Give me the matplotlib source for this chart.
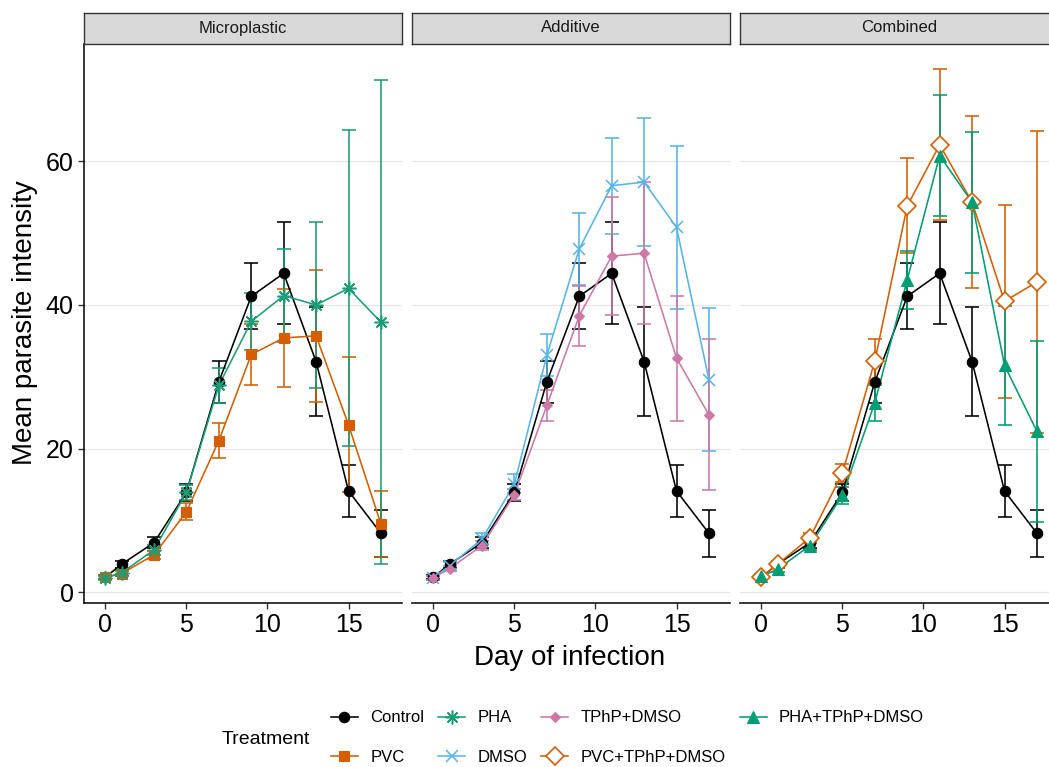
import matplotlib
matplotlib.use('Agg')
import matplotlib.pyplot as plt
from matplotlib.lines import Line2D

plt.rcParams['font.family'] = ['Liberation Sans', 'DejaVu Sans']

# Data (mean +/- se)
days = [0, 1, 3, 5, 7, 9, 11, 13, 15, 17]

control_mean = [2.1, 3.9, 6.9, 13.9, 29.3, 41.2, 44.4, 32.1, 14.1, 8.2]
control_se = [0.3, 0.5, 0.8, 1.2, 2.9, 4.6, 7.1, 7.6, 3.6, 3.3]

pvc_mean = [2.1, 2.6, 5.2, 11.2, 21.1, 33.1, 35.4, 35.7, 23.3, 9.5]
pvc_se = [0.3, 0.4, 0.6, 1.2, 2.45, 4.3, 6.8, 9.2, 9.4, 4.6]

pha_mean = [2.0, 2.7, 5.9, 13.9, 28.8, 37.7, 41.3, 40.0, 42.3, 37.6]
pha_se = [0.3, 0.4, 0.7, 1.0, 2.4, 4.0, 6.5, 11.6, 22.0, 33.7]

dmso_mean = [2.0, 3.7, 7.4, 15.1, 33.0, 47.8, 56.6, 57.1, 50.8, 29.6]
dmso_se = [0.3, 0.5, 0.8, 1.3, 2.9, 5.0, 6.7, 8.9, 11.3, 10.0]

tphp_mean = [2.0, 3.3, 6.5, 13.6, 26.0, 38.5, 46.8, 47.2, 32.6, 24.7]
tphp_se = [0.3, 0.4, 0.6, 0.8, 2.1, 4.2, 8.2, 9.9, 8.7, 10.5]

pvc_tphp_mean = [2.1, 3.9, 7.6, 16.6, 32.2, 53.8, 62.3, 54.3, 40.5, 43.2]
pvc_tphp_se = [0.3, 0.5, 0.7, 1.3, 3.1, 6.6, 10.5, 12.0, 13.4, 21.0]

pha_tphp_mean = [2.2, 3.2, 6.5, 13.5, 26.4, 43.5, 60.8, 54.3, 31.6, 22.4]
pha_tphp_se = [0.3, 0.4, 0.6, 1.2, 2.5, 4.0, 8.4, 9.8, 8.3, 12.6]

panels = ['Microplastic', 'Additive', 'Combined']
x_ticks = [0, 5, 10, 15]
y_ticks = [0, 20, 40, 60]

# name: (mean, se, colour, marker, size, filled)
styles = {
    'Control': (control_mean, control_se, 'black', 'o', 7.5, True),
    'PVC': (pvc_mean, pvc_se, '#D55E00', 's', 7, True),
    'PHA': (pha_mean, pha_se, '#1B9E77', (8, 2, 0), 10, True),
    'DMSO': (dmso_mean, dmso_se, '#56B4E9', 'x', 8, True),
    'TPhP+DMSO': (tphp_mean, tphp_se, '#CC79A7', 'D', 5.5, True),
    'PVC+TPhP+DMSO': (pvc_tphp_mean, pvc_tphp_se, '#D55E00', 'D', 9.5, False),
    'PHA+TPhP+DMSO': (pha_tphp_mean, pha_tphp_se, '#009E73', '^', 9, True),
}
panel_groups = {
    'Microplastic': ['Control', 'PVC', 'PHA'],
    'Additive': ['Control', 'DMSO', 'TPhP+DMSO'],
    'Combined': ['Control', 'PVC+TPhP+DMSO', 'PHA+TPhP+DMSO'],
}

W, H = 1049, 767
fig = plt.figure(figsize=(W / 100, H / 100), dpi=100)

ax_w = 318 / W
ax_b = (H - 603) / H
ax_h = (603 - 43.5) / H
strip_h = 31 / H
lefts = [84 / W, 412 / W, 740 / W]
lw = 1.15


def marker_kw(color, mk, filled):
    if not filled:
        return dict(color=color, markerfacecolor='white', markeredgecolor=color,
                    markeredgewidth=1.2)
    mew = 1.1 if mk in ['x', (8, 2, 0)] else 0.8
    return dict(color=color, markerfacecolor=color, markeredgecolor=color,
                markeredgewidth=mew)


for i, name in enumerate(panels):
    ax = fig.add_axes([lefts[i], ax_b, ax_w, ax_h])
    ax.set_xlim(-1.32, 18.3)
    ax.set_ylim(-1.5, 76.4)
    ax.set_xticks(x_ticks)
    ax.set_yticks(y_ticks)
    ax.yaxis.grid(True, color='#E6E6E6', linewidth=0.9)
    ax.set_axisbelow(True)
    for s in ['top', 'right']:
        ax.spines[s].set_visible(False)
    ax.spines['bottom'].set_linewidth(1.1)
    ax.spines['left'].set_linewidth(1.1)
    ax.tick_params(axis='both', labelsize=18, length=4.5, width=1.0,
                   color='#333333', labelcolor='black', pad=3)
    if i > 0:
        ax.spines['left'].set_visible(False)
        ax.tick_params(axis='y', left=False, labelleft=False)

    groups = panel_groups[name]
    for g in groups:
        mean, se, col, mk, ms, filled = styles[g]
        ax.errorbar(days, mean, yerr=se, fmt='none', ecolor=col,
                    elinewidth=lw, capsize=5.3, capthick=lw, zorder=2)
    for g in groups:
        mean, se, col, mk, ms, filled = styles[g]
        ax.plot(days, mean, '-', color=col, linewidth=lw, zorder=3)
    for g in groups:
        mean, se, col, mk, ms, filled = styles[g]
        ax.plot(days, mean, linestyle='none', marker=mk, markersize=ms,
                zorder=4, **marker_kw(col, mk, filled))

    # facet strip
    sax = fig.add_axes([lefts[i], ax_b + ax_h, ax_w, strip_h])
    sax.set_xticks([])
    sax.set_yticks([])
    sax.set_facecolor('#D9D9D9')
    for s in sax.spines.values():
        s.set_color('#333333')
        s.set_linewidth(1.0)
    sax.text(0.5, 0.5, name, ha='center', va='center', fontsize=12,
             color='#1A1A1A', transform=sax.transAxes)

fig.text(570 / W, (H - 665) / H, 'Day of infection', ha='center',
         va='baseline', fontsize=20)
fig.text(25 / W, (H - 323) / H, 'Mean parasite intensity', ha='center',
         va='center', rotation=90, fontsize=20)

# legend, filled column by column like ggplot
order = ['Control', 'PVC', 'PHA', 'DMSO', 'TPhP+DMSO', 'PVC+TPhP+DMSO',
         'PHA+TPhP+DMSO']
handles = []
for g in order:
    mean, se, col, mk, ms, filled = styles[g]
    handles.append(Line2D([], [], linestyle='-', linewidth=lw, marker=mk,
                          markersize=ms, **marker_kw(col, mk, filled)))
fig.legend(handles, order, loc='center left',
           bbox_to_anchor=(331 / W, (H - 737.5) / H), ncol=4, frameon=False,
           fontsize=12, handlelength=1.6, handletextpad=0.75,
           columnspacing=0.85, labelspacing=1.45, borderpad=0,
           borderaxespad=0)
fig.text(222 / W, (H - 739) / H, 'Treatment', ha='left', va='center',
         fontsize=14)

fig.savefig('out.png', dpi=100)
